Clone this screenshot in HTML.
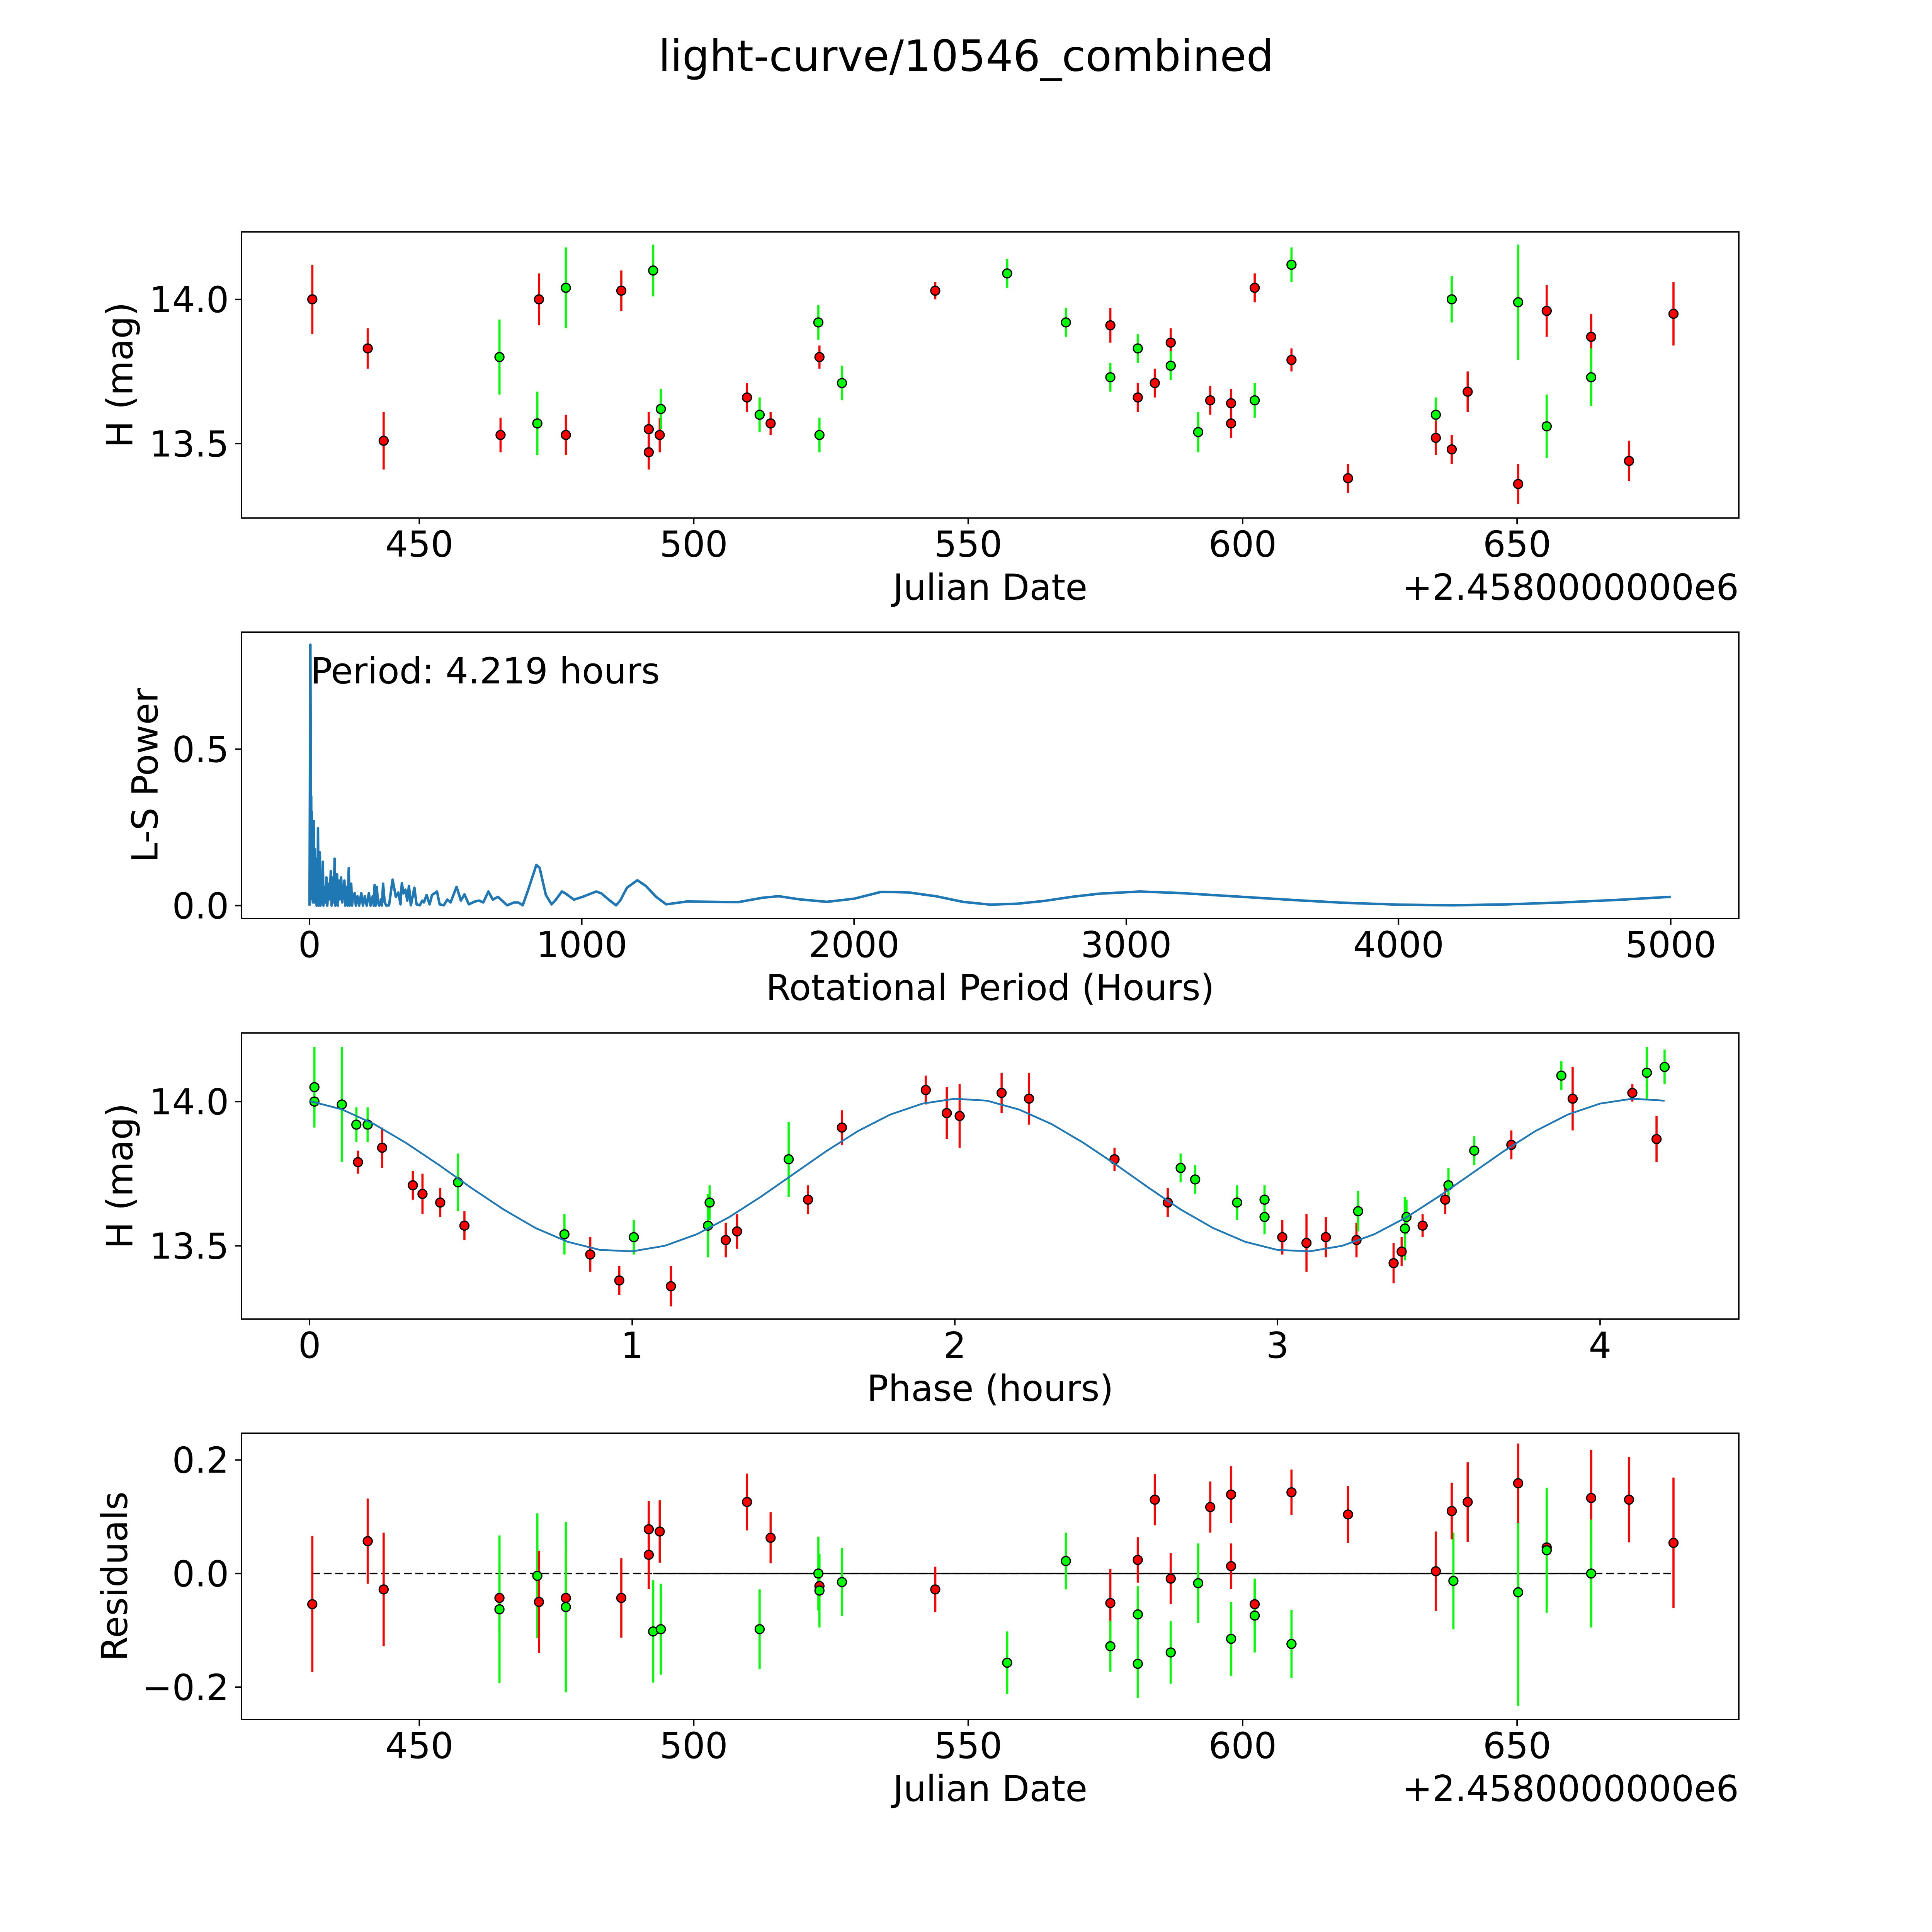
<!DOCTYPE html>
<html><head><meta charset="utf-8"><style>
html,body{margin:0;padding:0;background:#fff;overflow:hidden;width:100%;height:100%}
svg{display:block;width:100vw;height:100vh}
text{font-family:"DejaVu Sans","Liberation Sans",sans-serif;fill:#000}
</style></head><body>
<svg id="fig" viewBox="0 0 5400 5400" preserveAspectRatio="none" xmlns="http://www.w3.org/2000/svg">
<rect width="5400" height="5400" fill="#fff"/>
<text x="2700" y="198" font-size="120" text-anchor="middle">light-curve/10546_combined</text>
</svg>
<script>
// ---------- Panel 1: light curve ----------
const lcJd  = [430.5,440.6,443.5,464.6,464.8,471.5,471.8,476.7,476.7,486.8,491.8,491.8,492.6,493.8,494.0,509.7,512.0,514.0,522.7,522.9,522.9,527.0,544.0,557.1,567.8,575.9,575.9,580.9,580.9,584.0,586.9,586.9,591.9,594.1,597.9,597.9,602.2,602.2,608.9,608.9,619.2,635.2,635.2,638.1,638.1,641.0,650.2,650.2,655.4,655.4,663.5,663.5,670.4,678.5];
const lcMag = [14.00,13.83,13.51,13.80,13.53,13.57,14.00,14.04,13.53,14.03,13.55,13.47,14.10,13.53,13.62,13.66,13.60,13.57,13.92,13.80,13.53,13.71,14.03,14.09,13.92,13.91,13.73,13.83,13.66,13.71,13.85,13.77,13.54,13.65,13.64,13.57,13.65,14.04,14.12,13.79,13.38,13.60,13.52,14.00,13.48,13.68,13.99,13.36,13.96,13.56,13.87,13.73,13.44,13.95];
const lcErr = [0.12,0.07,0.10,0.13,0.06,0.11,0.09,0.14,0.07,0.07,0.06,0.06,0.09,0.06,0.07,0.05,0.06,0.04,0.06,0.04,0.06,0.06,0.03,0.05,0.05,0.06,0.05,0.05,0.05,0.05,0.05,0.05,0.07,0.05,0.05,0.05,0.06,0.05,0.06,0.04,0.05,0.06,0.06,0.08,0.05,0.07,0.20,0.07,0.09,0.11,0.08,0.10,0.07,0.11];
const lcCol = ["r","r","r","g","r","g","r","g","r","r","r","r","g","r","g","r","g","r","g","r","g","g","r","g","g","r","g","g","r","r","r","g","g","r","r","r","g","r","g","r","r","g","r","g","r","r","g","r","r","g","r","g","r","r"];
const lcXTicks = [450,500,550,600,650];
const lcYTicks = [13.5,14.0];
const lcYTickLabels = ["13.5","14.0"];

// ---------- Panel 2: periodogram ----------
const lsPeriod = [0,1,2,3,4,5,6,7,8,9,11,12,14,15,16,18,20,22,24,26,28,30,31,33,36,38,40,43,45,49,51,55,58,62,65,70,74,78,81,86,89,92,95,99,101,104,108,112,116,120,124,128,131,136,140,144,147,150,153,156,160,166,170,176,182,190,196,203,210,218,224,232,236,239,243,247,251,256,262,266,270,276,282,292,305,317,326,334,339,345,352,359,365,372,385,393,405,414,420,430,441,450,468,478,493,506,518,540,556,569,585,607,623,638,657,673,692,726,751,767,783,801,833,845,868,889,902,927,940,971,1003,1053,1072,1103,1126,1141,1166,1204,1235,1273,1310,1386,1575,1663,1723,1800,1900,2000,2100,2200,2300,2400,2500,2600,2700,2800,2900,3050,3200,3350,3500,3650,3800,4000,4200,4400,4600,4800,5000];
const lsPower  = [0,0.3,0.6,0.834,0.5,0.1,0.35,0.05,0.3,0.02,0.2,0.01,0.22,0.02,0.27,0.01,0.18,0.01,0.15,0.0,0.12,0.01,0.247,0.0,0.1,0.17,0.0,0.08,0.01,0.14,0.0,0.06,0.01,0.09,0.0,0.07,0.02,0.11,0.0,0.09,0.01,0.15,0.0,0.1,0.1,0.0,0.08,0.02,0.09,0.01,0.05,0.08,0.0,0.06,0.0,0.12,0.0,0.04,0.07,0.0,0.03,0.04,0.0,0.03,0.0,0.04,0.0,0.03,0.0,0.04,0.0,0.03,0.0,0.066,0.0,0.06,0.01,0.0,0.02,0.0,0.07,0.01,0.0,0.001,0.083,0.028,0.042,0.004,0.072,0.039,0.051,0.016,0.063,0.001,0.057,0.004,0.001,0.016,0.010,0.034,0.004,0.034,0.045,0.004,0.001,0.019,0.010,0.060,0.016,0.036,0.004,0.013,0.016,0.010,0.045,0.019,0.028,0.001,0.010,0.010,0.001,0.045,0.130,0.121,0.034,0.004,0.016,0.045,0.039,0.019,0.028,0.045,0.039,0.016,0.001,0.016,0.057,0.081,0.063,0.028,0.004,0.013,0.011,0.025,0.030,0.020,0.012,0.022,0.044,0.042,0.030,0.012,0.003,0.006,0.015,0.028,0.038,0.045,0.040,0.032,0.024,0.016,0.009,0.003,0.001,0.004,0.010,0.018,0.028];
const lsXTicks = [0,1000,2000,3000,4000,5000];
const lsYTicks = [0.0,0.5];
const lsYTickLabels = ["0.0","0.5"];

// ---------- Panel 3: phased light curve ----------
const phPhase = [0.015,0.015,0.10,0.145,0.15,0.18,0.225,0.32,0.35,0.405,0.46,0.48,0.79,0.87,0.96,1.005,1.12,1.235,1.24,1.29,1.325,1.485,1.545,1.65,1.91,1.975,2.015,2.145,2.23,2.495,2.66,2.70,2.745,2.875,2.96,2.96,3.015,3.09,3.15,3.245,3.25,3.36,3.385,3.395,3.40,3.45,3.52,3.53,3.61,3.725,3.88,3.915,4.10,4.145,4.175,4.20];
const phMag   = [14.05,14.00,13.99,13.92,13.79,13.92,13.84,13.71,13.68,13.65,13.72,13.57,13.54,13.47,13.38,13.53,13.36,13.57,13.65,13.52,13.55,13.80,13.66,13.91,14.04,13.96,13.95,14.03,14.01,13.80,13.65,13.77,13.73,13.65,13.66,13.60,13.53,13.51,13.53,13.52,13.62,13.44,13.48,13.56,13.60,13.57,13.66,13.71,13.83,13.85,14.09,14.01,14.03,14.10,13.87,14.12];
const phErr   = [0.14,0.08,0.20,0.06,0.04,0.06,0.07,0.05,0.07,0.05,0.10,0.05,0.07,0.06,0.05,0.06,0.07,0.11,0.06,0.06,0.06,0.13,0.05,0.06,0.05,0.09,0.11,0.07,0.09,0.04,0.05,0.05,0.05,0.06,0.05,0.06,0.06,0.10,0.07,0.06,0.07,0.07,0.05,0.11,0.06,0.04,0.05,0.06,0.05,0.05,0.05,0.11,0.03,0.09,0.08,0.06];
const phCol   = ["g","g","g","g","r","g","r","r","r","r","g","r","g","r","r","g","r","g","g","r","r","g","r","r","r","r","r","r","r","r","r","g","g","g","g","g","r","r","r","r","g","r","r","g","g","r","r","g","g","r","g","r","r","g","r","g"];
const modelPhase = [0,0.1,0.2,0.3,0.4,0.5,0.6,0.7,0.8,0.9,1.0,1.1,1.2,1.3,1.4,1.5,1.6,1.7,1.8,1.9,2.0,2.1,2.2,2.3,2.4,2.5,2.6,2.7,2.8,2.9,3.0,3.1,3.2,3.3,3.4,3.5,3.6,3.7,3.8,3.9,4.0,4.1,4.2];
const modelMag   = [14.002,13.973,13.922,13.856,13.781,13.702,13.627,13.562,13.514,13.486,13.481,13.500,13.540,13.599,13.671,13.749,13.827,13.898,13.955,13.993,14.010,14.003,13.972,13.922,13.856,13.781,13.702,13.626,13.562,13.514,13.486,13.481,13.500,13.540,13.599,13.671,13.749,13.827,13.898,13.955,13.993,14.010,14.003];
const phXTicks = [0,1,2,3,4];
const phYTicks = [13.5,14.0];
const phYTickLabels = ["13.5","14.0"];

// ---------- Panel 4: residuals ----------
const rsJd  = [430.5,440.6,443.5,464.6,464.6,471.5,471.8,476.7,476.7,486.8,491.8,491.8,492.6,493.8,494.0,509.7,512.0,514.0,522.7,522.9,522.9,527.0,544.0,557.1,567.8,575.9,575.9,580.9,580.9,580.9,584.0,586.9,586.9,591.9,594.1,597.9,597.9,597.9,602.2,602.2,608.9,608.9,619.2,635.2,638.4,638.1,641.0,650.2,650.2,655.4,655.4,663.5,663.5,670.4,678.5];
const rsRes = [-0.054,0.057,-0.028,-0.043,-0.063,-0.004,-0.050,-0.043,-0.059,-0.043,0.078,0.033,-0.102,0.074,-0.098,0.126,-0.098,0.063,0.0,-0.022,-0.030,-0.015,-0.028,-0.157,0.022,-0.052,-0.128,0.024,-0.072,-0.159,0.130,-0.009,-0.139,-0.017,0.117,0.139,0.013,-0.115,-0.054,-0.074,0.143,-0.124,0.104,0.004,-0.013,0.110,0.126,-0.033,0.159,0.046,0.041,0.133,0.0,0.130,0.054];
const rsErr = [0.12,0.075,0.10,0.06,0.13,0.11,0.09,0.085,0.15,0.07,0.05,0.06,0.09,0.055,0.08,0.05,0.07,0.045,0.065,0.04,0.065,0.06,0.04,0.055,0.05,0.06,0.045,0.04,0.05,0.06,0.045,0.045,0.055,0.07,0.045,0.05,0.04,0.065,0.04,0.065,0.04,0.06,0.05,0.07,0.085,0.05,0.07,0.20,0.07,0.10,0.11,0.085,0.095,0.075,0.115];
const rsCol = ["r","r","r","r","g","g","r","r","g","r","r","r","g","r","g","r","g","r","g","r","g","g","r","g","g","r","g","r","g","g","r","r","g","g","r","r","r","g","r","g","r","g","r","r","g","r","r","g","r","r","g","r","g","r","r"];
const rsZeroDashed = [430.5,678.5];
const rsZeroSolid  = [492.6,663.5];
const rsYTicks = [-0.2,0.0,0.2];
const rsYTickLabels = ["\u22120.2","0.0","0.2"];

// ---------- drawing ----------
const NS = "http://www.w3.org/2000/svg";
const svg = document.getElementById("fig");
const L = 675, R = 4860, PH = 800;
const TOPS = [648, 1767, 2887, 4006];
const COLORS = {r:"#ff0000", g:"#00ff00"};
const XLAB_DY = 228, TICK_DY = 108;

function mk(tag, attrs, parent){
  const e = document.createElementNS(NS, tag);
  for (const k in attrs) e.setAttribute(k, attrs[k]);
  (parent || svg).appendChild(e);
  return e;
}
function lin(d0, d1, r0, r1){ return v => r0 + (v - d0) * (r1 - r0) / (d1 - d0); }

function panel(i, name, xd, yd){
  const g = mk("g", {});
  
  
  const top = TOPS[i];
  return {g, top, bot: top + PH, x: lin(xd[0], xd[1], L, R), y: lin(yd[0], yd[1], top + PH, top)};
}
function frame(p){
  const r = mk("rect", {x:L, y:p.top, width:R-L, height:PH, fill:"none", stroke:"#000", "stroke-width":4}, p.g);
  
  
}
function xTicks(p, ticks, labels){
  ticks.forEach((t, k) => {
    const X = p.x(t);
    const l = mk("line", {x1:X, x2:X, y1:p.bot, y2:p.bot+17.5, stroke:"#000", "stroke-width":4}, p.g);
    
    
    const tx = mk("text", {x:X, y:p.bot+TICK_DY, "font-size":100, "text-anchor":"middle"}, p.g);
    
    
    tx.textContent = labels ? labels[k] : String(t);
  });
}
function yTicks(p, ticks, labels){
  ticks.forEach((t, k) => {
    const Y = p.y(t);
    const l = mk("line", {x1:L-17.5, x2:L, y1:Y, y2:Y, stroke:"#000", "stroke-width":4}, p.g);
    
    
    const tx = mk("text", {x:L-35, y:Y+36, "font-size":100, "text-anchor":"end"}, p.g);
    
    
    tx.textContent = labels[k];
  });
}
function xLabel(p, txt, y, name){
  const t = mk("text", {x:(L+R)/2, y:y, "font-size":100, "text-anchor":"middle"}, p.g);
  
  
  t.textContent = txt;
}
function yLabel(p, txt, x, name){
  const cy = p.top + PH/2;
  const t = mk("text", {x:x, y:cy, "font-size":100, "text-anchor":"middle", transform:`rotate(-90 ${x} ${cy})`}, p.g);
  
  
  t.textContent = txt;
}
function offsetText(p, name){
  const t = mk("text", {x:R, y:p.bot+XLAB_DY, "font-size":100, "text-anchor":"end"}, p.g);
  
  
  t.textContent = "+2.4580000000e6";
}
function points(p, xs, ys, es, cs){
  xs.forEach((xv, k) => {
    const X = p.x(xv);
    const l = mk("line", {x1:X, x2:X, y1:p.y(ys[k]-es[k]), y2:p.y(ys[k]+es[k]), stroke:COLORS[cs[k]], "stroke-width":6}, p.g);
    
    
  });
  xs.forEach((xv, k) => {
    const c = mk("circle", {cx:p.x(xv), cy:p.y(ys[k]), r:12.5, fill:COLORS[cs[k]], stroke:"#000", "stroke-width":3.5}, p.g);
    
    
  });
}
function lineSeries(p, xs, ys, name, extra){
  const d = xs.map((xv, k) => (k ? "L" : "M") + p.x(xv).toFixed(1) + " " + p.y(ys[k]).toFixed(1)).join(" ");
  const a = Object.assign({d:d, fill:"none", stroke:"#1f77b4", "stroke-width":7, "stroke-linejoin":"round"}, extra || {});
  const e = mk("path", a, p.g);
  
  
  return e;
}

// Panel 1
const p1 = panel(0, "light-curve-panel", [417.6, 690.4], [13.242, 14.234]);
points(p1, lcJd, lcMag, lcErr, lcCol);
frame(p1);
xTicks(p1, lcXTicks);
yTicks(p1, lcYTicks, lcYTickLabels);
xLabel(p1, "Julian Date", p1.bot + XLAB_DY, "x-axis-title");
offsetText(p1, "x-axis-offset");
yLabel(p1, "H (mag)", 370, "y-axis-title");

// Panel 2
const p2 = panel(1, "periodogram-panel", [-250, 5250], [-0.041, 0.874]);
lineSeries(p2, lsPeriod, lsPower, "periodogram-line");
frame(p2);
xTicks(p2, lsXTicks);
yTicks(p2, lsYTicks, lsYTickLabels);
xLabel(p2, "Rotational Period (Hours)", p2.bot + XLAB_DY, "x-axis-title");
yLabel(p2, "L-S Power", 440, "y-axis-title");
const ann = mk("text", {x:868, y:1910, "font-size":100}, p2.g);


ann.textContent = "Period: 4.219 hours";

// Panel 3
const p3 = panel(2, "phased-curve-panel", [-0.211, 4.43], [13.246, 14.238]);
points(p3, phPhase, phMag, phErr, phCol);
lineSeries(p3, modelPhase, modelMag, "model-curve", {"stroke-width":5});
frame(p3);
xTicks(p3, phXTicks);
yTicks(p3, phYTicks, phYTickLabels);
xLabel(p3, "Phase (hours)", p3.bot + XLAB_DY, "x-axis-title");
yLabel(p3, "H (mag)", 370, "y-axis-title");

// Panel 4
const p4 = panel(3, "residuals-panel", [417.6, 690.4], [-0.257, 0.247]);
const zd = mk("line", {x1:p4.x(rsZeroDashed[0]), x2:p4.x(rsZeroDashed[1]), y1:p4.y(0), y2:p4.y(0), stroke:"#000", "stroke-width":4, "stroke-dasharray":"22 10"}, p4.g);


const zs = mk("line", {x1:p4.x(rsZeroSolid[0]), x2:p4.x(rsZeroSolid[1]), y1:p4.y(0), y2:p4.y(0), stroke:"#000", "stroke-width":4}, p4.g);


points(p4, rsJd, rsRes, rsErr, rsCol);
frame(p4);
xTicks(p4, lcXTicks);
yTicks(p4, rsYTicks, rsYTickLabels);
xLabel(p4, "Julian Date", p4.bot + XLAB_DY, "x-axis-title");
offsetText(p4, "x-axis-offset");
yLabel(p4, "Residuals", 355, "y-axis-title");
</script>
</body></html>
